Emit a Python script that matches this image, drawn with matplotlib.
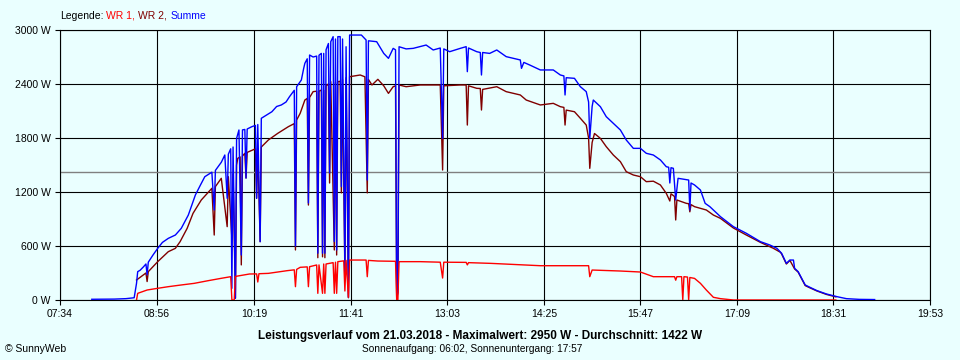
import matplotlib.pyplot as plt
import matplotlib as mpl

mpl.rcParams['font.family'] = ['Liberation Sans', 'DejaVu Sans']


def minutes(hhmm):
    h, m = hhmm.split(':')
    return int(h) * 60 + int(m)


# Summe (blue): (time, watts)
summe = [
    ("08:01", 8), ("08:20", 10), ("08:30", 15), ("08:37", 25),
    ("08:39", 185), ("08:40", 315), ("08:42", 330), ("08:45", 370), ("08:47", 400), ("08:48", 280), ("08:49", 420),
    ("08:53", 500), ("08:57", 574), ("09:01", 640), ("09:06", 685), ("09:12", 722), ("09:17", 796),
    ("09:23", 944), ("09:29", 1167), ("09:33", 1270), ("09:37", 1370), ("09:43", 1420), ("09:45", 1000), ("09:46", 1440),
    ("09:51", 1530), ("09:54", 1611), ("09:56", 1130), ("09:57", 1620), ("09:59", 1680), ("10:00", 130), ("10:01", 1700),
    ("10:03", 20), ("10:04", 1796), ("10:06", 1889), ("10:08", 500), ("10:09", 1890), ("10:11", 1895), ("10:12", 1355),
    ("10:13", 1900), ("10:17", 1926), ("10:20", 1940), ("10:21", 1130), ("10:22", 1950), ("10:24", 648), ("10:25", 2019),
    ("10:30", 2060), ("10:34", 2092), ("10:38", 2150), ("10:42", 2167), ("10:46", 2200), ("10:49", 2260), ("10:53", 2330),
    ("10:54", 600), ("10:55", 2370), ("10:59", 2444), ("11:01", 2574), ("11:02", 2630), ("11:04", 2680), ("11:05", 1078),
    ("11:06", 2722), ("11:09", 2700), ("11:12", 2710), ("11:13", 520), ("11:14", 2720), ("11:16", 2740), ("11:17", 520),
    ("11:18", 2740), ("11:19", 520), ("11:20", 2780), ("11:22", 2850), ("11:23", 1411), ("11:24", 2870), ("11:26", 2926),
    ("11:27", 650), ("11:28", 2900), ("11:29", 556), ("11:30", 2926), ("11:32", 2926), ("11:33", 1260), ("11:34", 2900),
    ("11:36", 300), ("11:37", 2814), ("11:39", 30), ("11:40", 2944), ("11:50", 2944), ("11:54", 2889), ("11:55", 1333),
    ("11:56", 2880), ("12:03", 2870), ("12:09", 2740), ("12:13", 2685), ("12:17", 2796), ("12:19", 2780), ("12:20", 30),
    ("12:21", 100), ("12:22", 2814), ("12:28", 2790), ("12:34", 2796), ("12:45", 2833), ("12:51", 2778), ("12:57", 2800),
    ("12:59", 1796), ("13:00", 2790), ("13:05", 2759), ("13:14", 2796), ("13:19", 2815), ("13:20", 2537), ("13:21", 2800),
    ("13:28", 2759), ("13:31", 2750), ("13:32", 2500), ("13:33", 2750), ("13:39", 2740), ("13:45", 2778), ("13:53", 2704),
    ("14:05", 2667), ("14:06", 2574), ("14:08", 2640), ("14:13", 2611), ("14:22", 2556), ("14:33", 2556), ("14:39", 2500),
    ("14:42", 2490), ("14:43", 2278), ("14:44", 2470), ("14:51", 2463), ("14:56", 2370), ("15:01", 2315), ("15:03", 2200),
    ("15:04", 1796), ("15:06", 2150), ("15:07", 2222), ("15:13", 2148), ("15:18", 2037), ("15:24", 1963), ("15:30", 1889),
    ("15:35", 1778), ("15:41", 1685), ("15:47", 1685), ("15:52", 1630), ("15:58", 1611), ("16:04", 1556), ("16:09", 1481),
    ("16:11", 1475), ("16:12", 1300), ("16:13", 1470), ("16:15", 1463), ("16:17", 1111), ("16:19", 1352), ("16:28", 1333),
    ("16:29", 1000), ("16:30", 1300), ("16:33", 1278), ("16:38", 1222), ("16:42", 1074), ("16:46", 1037), ("16:55", 926),
    ("17:06", 815), ("17:17", 741), ("17:29", 648), ("17:37", 611), ("17:43", 574), ("17:47", 518), ("17:51", 407),
    ("17:54", 444), ("17:57", 444), ("17:58", 352), ("18:01", 315), ("18:04", 241), ("18:07", 167), ("18:11", 141),
    ("18:17", 104), ("18:25", 67), ("18:34", 37), ("18:42", 15), ("18:53", 7), ("19:06", 5),
]

# WR 2 (dark red)
wr2 = [
    ("08:39", 222), ("08:44", 270), ("08:47", 300), ("08:48", 205), ("08:49", 315), ("08:57", 426), ("09:06", 537),
    ("09:12", 574), ("09:16", 648), ("09:22", 796), ("09:27", 963), ("09:34", 1111), ("09:43", 1241), ("09:45", 722),
    ("09:46", 1260), ("09:51", 1352), ("09:56", 815), ("09:57", 1370), ("10:00", 685), ("10:01", 1400), ("10:03", 20),
    ("10:04", 1500), ("10:05", 1574), ("10:07", 1590), ("10:08", 390), ("10:09", 1600), ("10:11", 1630), ("10:12", 1355),
    ("10:13", 1640), ("10:20", 1680), ("10:21", 1130), ("10:22", 1685), ("10:24", 648), ("10:25", 1700), ("10:31", 1778),
    ("10:39", 1852), ("10:48", 1926), ("10:53", 1960), ("10:54", 556), ("10:55", 2000), ("10:58", 2074), ("11:02", 2222),
    ("11:04", 2240), ("11:05", 1055), ("11:06", 2250), ("11:09", 2315), ("11:12", 2320), ("11:13", 470), ("11:14", 2320),
    ("11:16", 2333), ("11:17", 480), ("11:18", 2330), ("11:19", 470), ("11:20", 2380), ("11:22", 2400), ("11:23", 1300),
    ("11:24", 2426), ("11:27", 556), ("11:28", 2420), ("11:29", 500), ("11:30", 2426), ("11:32", 2430), ("11:33", 1190),
    ("11:34", 2450), ("11:36", 270), ("11:37", 2470), ("11:39", 25), ("11:40", 2481), ("11:49", 2500), ("11:53", 2480),
    ("11:55", 1190), ("11:56", 2450), ("11:59", 2389), ("12:04", 2452), ("12:09", 2380), ("12:13", 2296), ("12:17", 2370),
    ("12:19", 2380), ("12:20", 20), ("12:21", 80), ("12:22", 2389), ("12:28", 2370), ("12:40", 2389), ("12:57", 2389),
    ("12:59", 1444), ("13:00", 2380), ("13:14", 2389), ("13:19", 2389), ("13:20", 1944), ("13:21", 2380), ("13:28", 2352),
    ("13:31", 2350), ("13:32", 2111), ("13:33", 2340), ("13:45", 2370), ("13:53", 2315), ("14:05", 2278), ("14:10", 2222),
    ("14:22", 2167), ("14:33", 2185), ("14:39", 2148), ("14:42", 2140), ("14:43", 1944), ("14:44", 2110), ("14:51", 2092),
    ("14:56", 2019), ("15:01", 1944), ("15:03", 1800), ("15:04", 1463), ("15:06", 1750), ("15:08", 1850), ("15:13", 1796),
    ("15:18", 1704), ("15:24", 1611), ("15:30", 1537), ("15:35", 1426), ("15:41", 1389), ("15:47", 1370), ("15:52", 1315),
    ("15:58", 1320), ("16:04", 1278), ("16:09", 1185), ("16:12", 1100), ("16:13", 1180), ("16:16", 1150), ("16:17", 889),
    ("16:18", 1111), ("16:26", 1074), ("16:28", 1070), ("16:29", 980), ("16:30", 1060), ("16:33", 1037), ("16:43", 1000),
    ("16:49", 944), ("16:55", 907), ("17:06", 800), ("17:17", 722), ("17:29", 640), ("17:40", 574), ("17:46", 530),
    ("17:47", 510), ("17:51", 400), ("17:54", 440), ("17:58", 345), ("18:01", 310), ("18:04", 235), ("18:07", 160),
    ("18:11", 135), ("18:17", 100), ("18:25", 62), ("18:33", 35),
]

# WR 1 (red)
wr1 = [
    ("08:39", 0), ("08:40", 74), ("08:48", 111), ("08:57", 130), ("09:06", 148), ("09:17", 167), ("09:28", 185),
    ("09:40", 215), ("09:51", 241), ("09:59", 259), ("10:00", 0), ("10:02", 0), ("10:03", 262), ("10:15", 289),
    ("10:21", 290), ("10:22", 200), ("10:23", 292), ("10:31", 296), ("10:47", 326), ("10:53", 335), ("10:54", 148),
    ("10:55", 340), ("10:58", 363), ("11:04", 368), ("11:05", 148), ("11:06", 370), ("11:12", 389), ("11:13", 74),
    ("11:14", 390), ("11:17", 74), ("11:18", 400), ("11:19", 74), ("11:20", 400), ("11:26", 415), ("11:27", 74),
    ("11:28", 420), ("11:29", 74), ("11:30", 426), ("11:35", 435), ("11:36", 100), ("11:37", 440), ("11:39", 30),
    ("11:40", 444), ("11:54", 444), ("11:55", 259), ("11:56", 440), ("12:04", 433), ("12:19", 430), ("12:20", 0),
    ("12:21", 0), ("12:22", 426), ("12:40", 426), ("12:57", 420), ("12:59", 244), ("13:00", 420), ("13:19", 418),
    ("13:20", 390), ("13:21", 415), ("13:40", 407), ("14:22", 381), ("15:03", 381), ("15:04", 259), ("15:06", 333),
    ("15:30", 322), ("15:47", 311), ("15:58", 259), ("16:16", 259), ("16:17", 220), ("16:18", 259), ("16:22", 259),
    ("16:23", 0), ("16:24", 259), ("16:27", 255), ("16:28", 0), ("16:29", 250), ("16:33", 240), ("16:38", 185),
    ("16:43", 111), ("16:49", 30), ("16:55", 15), ("17:06", 0), ("18:33", 0),
]

xtick_labels = ['07:34', '08:56', '10:19', '11:41', '13:03', '14:25', '15:47', '17:09', '18:31', '19:53']
ytick_values = [0, 600, 1200, 1800, 2400, 3000]
average = 1422

title = 'Leistungsverlauf vom 21.03.2018 - Maximalwert: 2950 W - Durchschnitt: 1422 W'
subtitle = 'Sonnenaufgang: 06:02, Sonnenuntergang: 17:57'
legend_parts = [('Legende:', 'black'), ('WR 1,', '#FF0000'), ('WR 2,', '#800000'), ('Summe', '#0000FF')]

bg = '#EAFFFF'
W, H = 960, 360
fig = plt.figure(figsize=(9.6, 3.6), dpi=100, facecolor=bg)
ax = fig.add_axes([60 / W, 60 / H, 870 / W, 270 / H], facecolor=bg)

for series, color in ((wr2, '#800000'), (summe, '#0000FF'), (wr1, '#FF0000')):
    t = [minutes(s) for s, _ in series]
    w = [v for _, v in series]
    ax.plot(t, w, color=color, lw=1.0, zorder=3)

ax.axhline(average, color='#808080', lw=1.0, zorder=2)

ax.set_xlim(minutes('07:34'), minutes('19:53'))
ax.set_ylim(0, 3000)
ax.set_xticks([minutes(l) for l in xtick_labels])
ax.set_xticklabels(xtick_labels)
ax.set_yticks(ytick_values)
ax.set_yticklabels([f'{v} W' for v in ytick_values])
ax.set_axisbelow(True)
ax.grid(True, color='black', lw=0.8)
for sp in ax.spines.values():
    sp.set_color('black')
    sp.set_linewidth(0.8)
ax.tick_params(length=3.6, width=0.8, labelsize=7.5, pad=3, colors='black')

# legend line at the top, pieces in different colours
renderer = fig.canvas.get_renderer()
x = 60
for text, color in legend_parts:
    t = fig.text(x / W, 1 - 16 / H, text, color=color, fontsize=7.5, va='center', ha='left')
    bb = t.get_window_extent(renderer)
    x = bb.x1 + 3

fig.text(480 / W, 1 - 336 / H, title, fontsize=8.5, fontweight='bold', ha='center', va='center')
fig.text(472 / W, 1 - 349 / H, subtitle, fontsize=7.3, ha='center', va='center')
fig.text(5 / W, 1 - 349 / H, '\u00a9 SunnyWeb', fontsize=7.5, ha='left', va='center')

plt.savefig('out.png', dpi=100, facecolor=bg)
